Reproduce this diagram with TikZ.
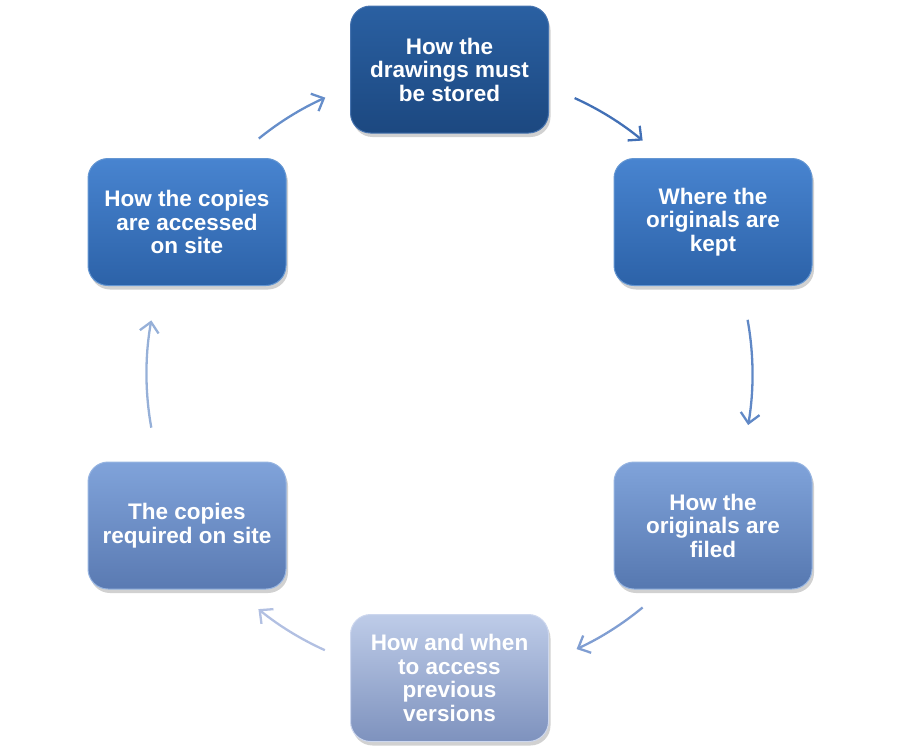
\documentclass[tikz,border=0pt]{standalone}
\usepackage{fontspec}
\setmainfont{Liberation Sans}
\usetikzlibrary{arrows.meta,shadows,shapes.misc}
\tikzset{
  cyclebox/.style={rounded corners=20pt, minimum width=198pt, minimum height=127pt,
    align=center, text=white, font=\bfseries\fontsize{22.5}{23.5}\selectfont,
    line width=1pt, inner sep=2pt,
    drop shadow={shadow xshift=2pt, shadow yshift=-4pt, opacity=0.3, fill=black!60}},
  cyclearrow/.style={line width=2.3pt, -{Straight Barb[length=10pt,width=19pt,line width=2.3pt]}},
}
\definecolor{aT}{RGB}{42,96,162}\definecolor{aB}{RGB}{28,72,128}\definecolor{aD}{RGB}{70,115,175}
\definecolor{bT}{RGB}{72,132,208}\definecolor{bB}{RGB}{44,98,168}\definecolor{bD}{RGB}{100,150,210}
\definecolor{cT}{RGB}{128,163,218}\definecolor{cB}{RGB}{86,120,176}\definecolor{cD}{RGB}{150,180,225}
\definecolor{dT}{RGB}{190,204,232}\definecolor{dB}{RGB}{126,146,190}\definecolor{dD}{RGB}{205,215,238}
\definecolor{eT}{RGB}{128,163,218}\definecolor{eB}{RGB}{90,122,178}\definecolor{eD}{RGB}{150,180,225}
\definecolor{fT}{RGB}{72,132,208}\definecolor{fB}{RGB}{44,98,168}\definecolor{fD}{RGB}{100,150,210}
\definecolor{arA}{RGB}{66,112,182}
\definecolor{arB}{RGB}{96,136,198}
\definecolor{arC}{RGB}{128,158,210}
\definecolor{arD}{RGB}{178,192,226}
\definecolor{arE}{RGB}{150,176,216}
\definecolor{arF}{RGB}{102,142,202}
\begin{document}
\begin{tikzpicture}[x=1pt,y=1pt]
\useasboundingbox (0,0) rectangle (900,-755);
\coordinate (ctr) at (449.5,-374);
\node[cyclebox, top color=aT, bottom color=aB, draw=aD] (n1) at (449.5,-69.5) {How the\\drawings must\\be stored};
\node[cyclebox, top color=bT, bottom color=bB, draw=bD] (n2) at (713,-222) {Where the\\originals are\\kept};
\node[cyclebox, top color=cT, bottom color=cB, draw=cD] (n3) at (713,-525.5) {How the\\originals are\\filed};
\node[cyclebox, top color=dT, bottom color=dB, draw=dD] (n4) at (449.5,-678) {How and when\\to access\\previous\\versions};
\node[cyclebox, top color=eT, bottom color=eB, draw=eD] (n5) at (187,-525.5) {The copies\\required on site};
\node[cyclebox, top color=fT, bottom color=fB, draw=fD] (n6) at (187,-222) {How the copies\\are accessed\\on site};
\draw[cyclearrow, arA] (ctr) ++(65.6:303) arc[start angle=65.6, end angle=50.4, radius=303];
\draw[cyclearrow, arB] (ctr) ++(10.3:303) arc[start angle=10.3, end angle=-9.7, radius=303];
\draw[cyclearrow, arC] (ctr) ++(-50.4:303) arc[start angle=-50.4, end angle=-65.2, radius=303];
\draw[cyclearrow, arD] (ctr) ++(-114.3:303) arc[start angle=-114.3, end angle=-129.1, radius=303];
\draw[cyclearrow, arE] (ctr) ++(190.2:303) arc[start angle=190.2, end angle=169.8, radius=303];
\draw[cyclearrow, arF] (ctr) ++(129:303) arc[start angle=129, end angle=114.2, radius=303];
\end{tikzpicture}
\end{document}
